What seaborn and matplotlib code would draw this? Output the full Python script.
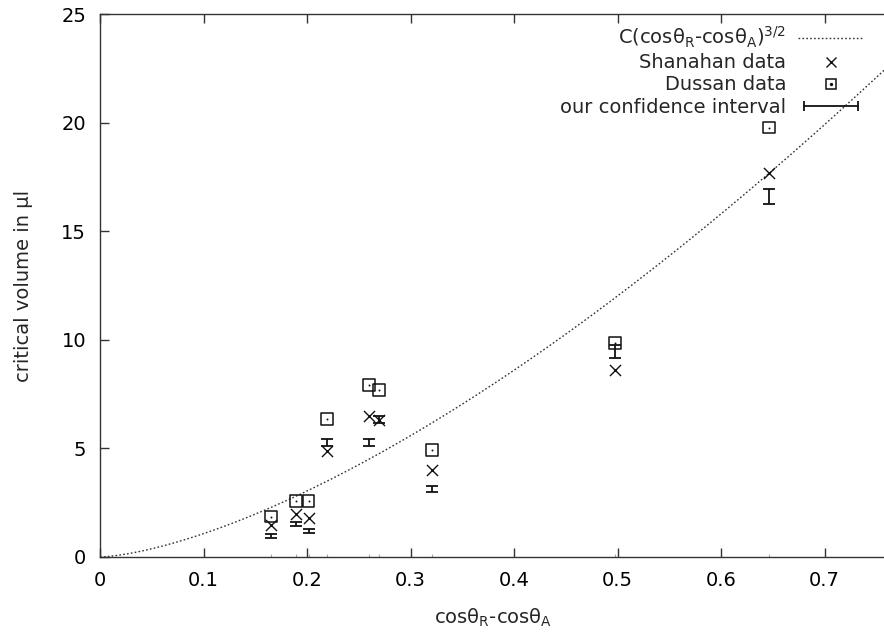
import numpy as np
import pandas as pd
import matplotlib
matplotlib.use("Agg")
import matplotlib.pyplot as plt
import seaborn as sns
from matplotlib.lines import Line2D
from matplotlib.legend_handler import HandlerTuple, HandlerLine2D

# Contact-angle hysteresis (cos theta_R - cos theta_A) for each drop
x_vals = [0.1655, 0.1890, 0.2015, 0.2190, 0.2600, 0.2698, 0.3205, 0.4975, 0.6465]
# Critical volumes (microlitres)
shanahan = [1.47, 1.98, 1.78, 4.90, 6.50, 6.31, 4.00, 8.60, 17.70]
dussan = [1.86, 2.58, 2.58, 6.34, 7.93, 7.70, 4.93, 9.86, 19.77]
ci_low = [0.86, 1.44, 1.10, 5.13, 5.13, 6.16, 3.00, 9.17, 16.27]
ci_high = [1.07, 1.60, 1.29, 5.44, 5.44, 6.50, 3.27, 9.77, 16.96]
# Prefactor of the scaling law C (cos theta_R - cos theta_A)^(3/2)
C = 34.0
X_MAX = 0.759
Y_MAX = 25
x_ticklabels = ["0", "0.1", "0.2", "0.3", "0.4", "0.5", "0.6", "0.7"]

sns.set_style("ticks")
plt.rcParams["font.family"] = ["DejaVu Sans"]
plt.rcParams["mathtext.fontset"] = "dejavusans"
plt.rcParams["mathtext.default"] = "rm"

FS = 14
INK = "#111111"
AXC = "#333333"

fig = plt.figure(figsize=(8.84, 6.34), dpi=100)
ax = fig.add_axes([100 / 884, 1 - 557 / 634, 1 - 100 / 884 + 0.002, (557 - 14) / 634])

# scaling law
xs = np.linspace(0, X_MAX, 400)
curve = pd.DataFrame({"x": xs, "v": C * xs ** 1.5})
sns.lineplot(data=curve, x="x", y="v", ax=ax, color="#333333", lw=1.0,
             linestyle=(0, (1.2, 1.6)), legend=False)

pts = pd.DataFrame({"x": x_vals, "shanahan": shanahan, "dussan": dussan,
                    "lo": ci_low, "hi": ci_high})

# Shanahan data: crosses
sns.scatterplot(data=pts, x="x", y="shanahan", ax=ax, marker="x", s=64,
                color=INK, linewidth=1.0, legend=False, zorder=4)
# Dussan data: open squares with a centre dot
sns.scatterplot(data=pts, x="x", y="dussan", ax=ax, marker="s", s=72,
                facecolor="none", edgecolor=INK, linewidth=1.1, legend=False, zorder=4)
sns.scatterplot(data=pts, x="x", y="dussan", ax=ax, marker="o", s=2,
                color=INK, linewidth=0, legend=False, zorder=5)

# confidence intervals
mid = (pts["lo"] + pts["hi"]) / 2
ax.errorbar(pts["x"], mid, yerr=[mid - pts["lo"], pts["hi"] - mid], fmt="none",
            ecolor=INK, elinewidth=1.3, capsize=4.2, capthick=1.3, zorder=3)

ax.set_xlim(0, X_MAX)
ax.set_ylim(0, Y_MAX)
ax.set_xticks(np.arange(0, 0.71, 0.1))
ax.set_xticklabels(x_ticklabels)
ax.set_yticks(np.arange(0, 26, 5))
# small marks on the bottom axis at each measured hysteresis value
ax.set_xticks(x_vals, minor=True)

ax.tick_params(axis="both", which="major", direction="in", length=6.5, width=1.0,
               color=AXC, labelsize=FS, labelcolor="black", pad=10, top=True, right=False)
ax.tick_params(axis="x", which="minor", direction="in", length=2.5, width=0.8,
               color="#aaaaaa", top=False, bottom=True, labelbottom=False)
for side in ["left", "bottom", "top"]:
    ax.spines[side].set_linewidth(1.0)
    ax.spines[side].set_color(AXC)
ax.spines["right"].set_visible(False)

ax.set_xlabel("cosθ$_\\mathrm{R}$-cosθ$_\\mathrm{A}$", fontsize=FS, labelpad=12)
ax.set_ylabel("critical volume in μl", fontsize=FS, labelpad=20)

# legend
h_curve = Line2D([], [], color="#333333", lw=1.0, linestyle=(0, (1.2, 1.6)))
h_shan = Line2D([], [], color=INK, marker="x", markersize=7, linestyle="none", mew=1.0)
h_sq = Line2D([], [], color=INK, marker="s", markersize=7.5, markerfacecolor="none",
              linestyle="none", mew=1.1)
h_dot = Line2D([], [], color=INK, marker="o", markersize=1.4, linestyle="none")
h_ci = Line2D([], [], color=INK, lw=1.3, marker="|", markersize=6.5, mew=1.3)

leg = fig.legend(
    [h_curve, h_shan, (h_sq, h_dot), h_ci],
    ["C(cosθ$_\\mathrm{R}$-cosθ$_\\mathrm{A}$)$^{3/2}$", "Shanahan data", "Dussan data",
     "our confidence interval"],
    handler_map={tuple: HandlerTuple(ndivide=1, pad=0),
                 h_ci: HandlerLine2D(numpoints=2)},
    loc="upper right", bbox_to_anchor=(864 / 884, 1 - 25 / 634),
    bbox_transform=fig.transFigure, frameon=False, markerfirst=False,
    fontsize=FS, handlelength=3.4, handletextpad=0.6, labelspacing=0.16,
    borderpad=0, borderaxespad=0, numpoints=1,
)

fig.savefig("out.png", dpi=100)
